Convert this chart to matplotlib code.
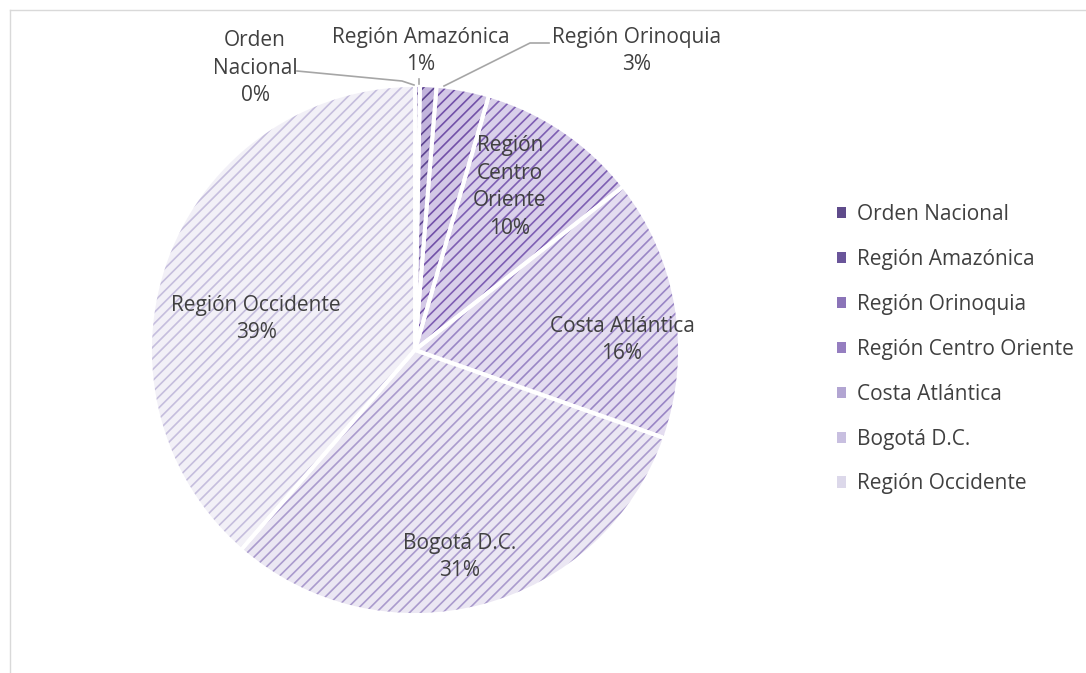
import matplotlib.pyplot as plt
from matplotlib.lines import Line2D
from matplotlib.patches import Patch

# data (shares in %)
regiones = ["Orden Nacional", "Región Amazónica", "Región Orinoquia",
            "Región Centro Oriente", "Costa Atlántica", "Bogotá D.C.",
            "Región Occidente"]
valores = [0.3, 1.0, 3.2, 9.9, 16.0, 31.0, 38.6]
etiquetas = ["Orden\nNacional\n0%", "Región Amazónica\n1%", "Región Orinoquia\n3%",
             "Región\nCentro\nOriente\n10%", "Costa Atlántica\n16%",
             "Bogotá D.C.\n31%", "Región Occidente\n39%"]

fondo = ["#c5b8de", "#c2b4dc", "#d3c8e6", "#d9d0ea", "#e4ddf0", "#ebe7f3", "#f2f0f7"]
rayas = ["#563c88", "#5c4390", "#7251a8", "#7e5fb3", "#9a86c5", "#aa9bcd", "#c5bedd"]
leyenda = ["#5f4b8b", "#6a559a", "#8b74b8", "#957ec0", "#b2a5d2", "#c8bfe0", "#dcd8ea"]

plt.rcParams['font.family'] = ['Open Sans', 'DejaVu Sans']
plt.rcParams['hatch.linewidth'] = 1.2
gris = "#404040"

W, H = 1086, 673
fig = plt.figure(figsize=(W / 100, H / 100), dpi=100)

# pie centre (415, 350) px, radius 265 px
cx, cy, r = 415, 350, 265
ax = fig.add_axes([0, 0, 800 / W, 1])

wedges, _ = ax.pie(valores, startangle=90, counterclock=False, colors=fondo,
                   radius=1, wedgeprops=dict(linewidth=0))
for w, hc in zip(wedges, rayas):
    w.set_edgecolor(hc)
    w.set_linewidth(0)
    w.set_hatch("///")
# white separators on top
ax.pie(valores, startangle=90, counterclock=False, radius=1,
       wedgeprops=dict(fill=False, edgecolor="white", linewidth=2.8))
ax.set_xlim((0 - cx) / r, (800 - cx) / r)
ax.set_ylim((cy - H) / r, cy / r)
ax.set_aspect('auto')


def px(x, y):
    return (x - cx) / r, (cy - y) / r


pos = [(255, 68), (421, 51), (637, 51), (510, 187), (622, 340), (460, 557), (256, 319)]
for txt, (x, y) in zip(etiquetas, pos):
    ax.text(*px(x, y), txt, ha="center", va="center", fontsize=15, color=gris,
            linespacing=1.4)

# leader lines for the small slices
lc = "#a6a6a6"
ax.plot(*zip(px(297, 71), px(402, 81), px(414, 85)), color=lc, lw=1.2)
ax.plot(*zip(px(419, 79), px(419, 84)), color=lc, lw=1.2)
ax.plot(*zip(px(549, 43), px(530, 43), px(444, 86)), color=lc, lw=1.2)

handles = [Patch(facecolor=c, edgecolor="none") for c in leyenda]
leg = fig.legend(handles, regiones, loc="upper left", bbox_to_anchor=(818 / W, 1 - 185 / H),
                 frameon=False, fontsize=15, labelcolor=gris, handlelength=0.45,
                 handleheight=0.45, handletextpad=0.5, labelspacing=1.15)

# chart frame (only top and left visible)
fig.add_artist(Line2D([10 / W, 1], [1 - 10 / H, 1 - 10 / H], color="#d9d9d9", lw=1))
fig.add_artist(Line2D([10 / W, 10 / W], [0, 1 - 10 / H], color="#d9d9d9", lw=1))

fig.savefig("out.png", dpi=100)
